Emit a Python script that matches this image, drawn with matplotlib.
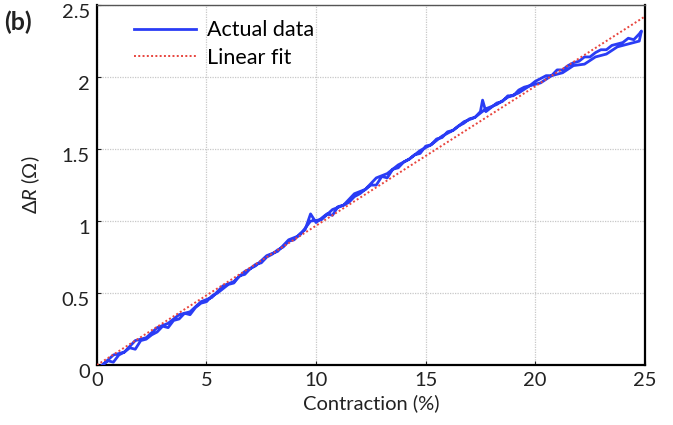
import numpy as np
import matplotlib
matplotlib.use('Agg')
import matplotlib.pyplot as plt
import matplotlib.transforms as mtransforms
from matplotlib.ticker import FuncFormatter

plt.rcParams['font.family'] = ['Lato', 'DejaVu Sans']
plt.rcParams['mathtext.fontset'] = 'custom'
plt.rcParams['mathtext.it'] = 'Lato:italic'
plt.rcParams['mathtext.rm'] = 'Lato'

# loading sweep (contraction %, delta R in ohm)
X_LOAD = [0.25, 0.5, 0.75, 1.0, 1.25, 1.5, 1.75, 2.0, 2.25, 2.5,
          2.75, 3.0, 3.25, 3.5, 3.75, 4.0, 4.25, 4.5, 4.75, 5.0,
          5.25, 5.5, 5.75, 6.0, 6.25, 6.5, 6.75, 7.0, 7.25, 7.5,
          7.75, 8.0, 8.25, 8.5, 8.75, 9.0, 9.25, 9.5, 9.75, 10.0,
          10.25, 10.5, 10.75, 11.0, 11.25, 11.5, 11.75, 12.0, 12.25, 12.5,
          12.75, 13.0, 13.25, 13.5, 13.75, 14.0, 14.25, 14.5, 14.75, 15.0,
          15.25, 15.5, 15.75, 16.0, 16.25, 16.5, 16.75, 17.0, 17.25, 17.5,
          17.6, 17.75, 18.0, 18.25, 18.5, 18.75, 19.0, 19.25, 19.5, 19.75, 20.0,
          20.25, 20.5, 20.75, 21.0, 21.25, 21.5, 21.75, 22.0, 22.25, 22.5,
          22.75, 23.0, 23.25, 23.5, 23.75, 24.0, 24.25, 24.5, 24.75, 24.85]
Y_LOAD = [0.00, 0.03, 0.02, 0.07, 0.09, 0.12, 0.11, 0.17, 0.18, 0.21,
          0.23, 0.27, 0.26, 0.31, 0.32, 0.36, 0.35, 0.40, 0.43, 0.44,
          0.48, 0.50, 0.53, 0.56, 0.57, 0.62, 0.63, 0.67, 0.70, 0.71,
          0.75, 0.77, 0.80, 0.82, 0.86, 0.87, 0.91, 0.94, 1.05, 0.99,
          1.02, 1.05, 1.04, 1.10, 1.11, 1.13, 1.17, 1.19, 1.22, 1.25,
          1.25, 1.31, 1.30, 1.36, 1.37, 1.41, 1.43, 1.46, 1.47, 1.52,
          1.53, 1.57, 1.58, 1.62, 1.63, 1.66, 1.68, 1.71, 1.72, 1.76,
          1.84, 1.76, 1.79, 1.82, 1.83, 1.87, 1.87, 1.91, 1.93, 1.94, 1.97,
          1.99, 2.01, 2.01, 2.05, 2.05, 2.08, 2.10, 2.11, 2.14, 2.14,
          2.17, 2.19, 2.19, 2.22, 2.23, 2.24, 2.27, 2.26, 2.30, 2.32]

# unloading sweep
X_UNLOAD = [24.75, 24.25, 23.75, 23.25, 22.75, 22.25, 21.75, 21.25, 20.75, 20.25,
            19.75, 19.25, 18.75, 18.25, 17.75, 17.25, 16.75, 16.25, 15.75, 15.25,
            14.75, 14.25, 13.75, 13.25, 12.75, 12.25, 11.75, 11.25, 10.75, 10.25,
            9.75, 9.25, 8.75, 8.25, 7.75, 7.25, 6.75, 6.25, 5.75, 5.25,
            4.75, 4.25, 3.75, 3.25, 2.75, 2.25, 1.75, 1.25, 0.75, 0.25]
Y_UNLOAD = [2.25, 2.23, 2.21, 2.16, 2.14, 2.09, 2.08, 2.03, 2.01, 1.96,
            1.94, 1.89, 1.86, 1.81, 1.78, 1.72, 1.69, 1.63, 1.59, 1.53,
            1.49, 1.43, 1.39, 1.33, 1.30, 1.22, 1.19, 1.11, 1.08, 1.01,
            1.00, 0.90, 0.87, 0.79, 0.76, 0.69, 0.65, 0.58, 0.55, 0.47,
            0.44, 0.37, 0.35, 0.29, 0.26, 0.19, 0.17, 0.09, 0.07, 0.00]

# linear fit end points
FIT_X = [0.0, 25.0]
FIT_Y = [0.0, 2.42]

X_TICKS = [0, 5, 10, 15, 20, 25]
Y_TICKS = [0, 0.5, 1, 1.5, 2, 2.5]

BLUE = '#2a3cf5'
RED = '#e8453e'
FS = 14.5

fig = plt.figure(figsize=(6.73, 4.25), dpi=100)
ax = fig.add_axes([0.144, 0.141, 0.814, 0.847])

x_all = X_LOAD + X_UNLOAD
y_all = Y_LOAD + Y_UNLOAD
ax.plot(x_all, y_all, color=BLUE, lw=2.0, label='Actual data', zorder=3)
ax.plot(FIT_X, FIT_Y, color=RED, lw=1.4, ls=(0, (1, 1.2)),
        label='Linear fit', zorder=4)

ax.set_xlim(0, 25)
ax.set_ylim(0, 2.5)
ax.set_xticks(X_TICKS)
ax.set_yticks(Y_TICKS)
ax.yaxis.set_major_formatter(FuncFormatter(lambda v, p: f'{v:g}'))
ax.tick_params(labelsize=FS, direction='in', length=3, width=0.8,
               colors='#222222', pad=5)
ax.grid(True, color='#c8c8c8', ls=(0, (1, 1)), lw=0.9)
for side in ['left', 'bottom', 'right']:
    ax.spines[side].set_linewidth(1.6)
    ax.spines[side].set_color('black')
ax.spines['top'].set_linewidth(1.0)
ax.spines['top'].set_color('#555555')

# y tick labels sit a little below their grid lines in the original
shift = mtransforms.ScaledTranslation(0, -4 / 72, fig.dpi_scale_trans)
for lbl in ax.get_yticklabels():
    lbl.set_transform(lbl.get_transform() + shift)

ax.set_xlabel('Contraction (%)', fontsize=FS, labelpad=4, color='#222222')
ax.set_ylabel(r'$\mathit{\Delta R}$ (Ω)', fontsize=FS, labelpad=14,
              color='#222222')

ax.legend(loc='upper left', frameon=False, fontsize=15.5,
          handlelength=2.9, handletextpad=0.5, labelspacing=0.35,
          borderaxespad=0.3, bbox_to_anchor=(0.04, 1.0))

fig.text(0.006, 0.93, '(b)', fontsize=18, fontweight='bold', color='#222222')

fig.savefig('out.png', dpi=100)
